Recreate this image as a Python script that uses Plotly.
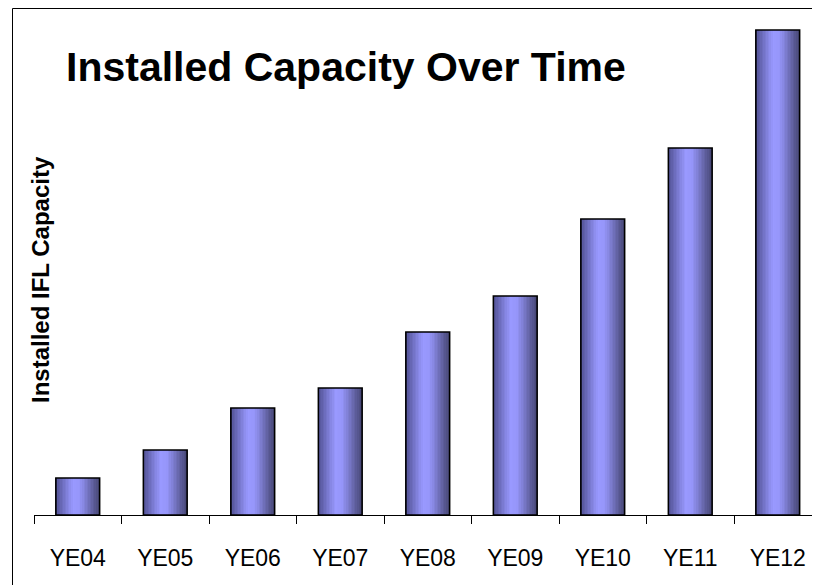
import plotly.graph_objects as go

categories = ["YE04", "YE05", "YE06", "YE07", "YE08", "YE09", "YE10", "YE11", "YE12"]
capacity = [37, 65, 107, 127, 183, 219, 296, 367, 485]

title_text = "Installed Capacity Over Time"
y_title = "Installed IFL Capacity"

FONT = "Liberation Sans, Arial, sans-serif"
BAR_W = 0.5
N_STRIPES = 28

# colour profile across bar width (position, rgb)
profile = [(0.0, (80, 80, 146)), (0.4, (153, 153, 255)), (0.55, (150, 150, 250)), (1.0, (70, 70, 116))]


def colour_at(t):
    for (p0, c0), (p1, c1) in zip(profile[:-1], profile[1:]):
        if p0 <= t <= p1:
            f = (t - p0) / (p1 - p0)
            return "rgb(%d,%d,%d)" % tuple(round(a + (b - a) * f) for a, b in zip(c0, c1))
    return "rgb(%d,%d,%d)" % profile[-1][1]


fig = go.Figure()
sw = BAR_W / N_STRIPES
for i in range(N_STRIPES):
    t = (i + 0.5) / N_STRIPES
    fig.add_trace(go.Bar(
        x=categories, y=capacity,
        width=sw * 1.08, offset=-BAR_W / 2 + i * sw,
        marker=dict(color=colour_at(t), line=dict(width=0)),
        showlegend=False, hoverinfo="skip",
    ))
# outline
fig.add_trace(go.Bar(
    x=categories, y=capacity, width=BAR_W, offset=-BAR_W / 2,
    marker=dict(color="rgba(0,0,0,0)", line=dict(color="black", width=1.6)),
    showlegend=False,
))

# the page places the figure 8px in from the top-left corner
OFF = 8
W, H = 820 - OFF, 585 - OFF
L, R, T = 34 - OFF, 0, 20 - OFF
B = H - (515 - OFF)
pw = W - L - R
ph = H - T - B


def px(xp):
    return (xp - OFF - L) / pw


def py(yp):
    return (H - B - (yp - OFF)) / ph


fig.update_layout(
    width=W, height=H,
    margin=dict(l=L, r=R, t=T, b=B, pad=0),
    barmode="overlay",
    plot_bgcolor="white", paper_bgcolor="white",
    font=dict(family=FONT, color="black"),
    xaxis=dict(
        type="category", range=[-0.5, 8.5 - 1.5 / 87.5],
        showline=True, linecolor="black", linewidth=1,
        ticks="outside", tickson="boundaries", ticklen=8, tickcolor="black", tickwidth=1,
        tickfont=dict(family=FONT, size=23, color="black"),
        ticklabelstandoff=22,
        showgrid=False, zeroline=False,
    ),
    yaxis=dict(
        range=[0, ph], showticklabels=False, showgrid=False, zeroline=False,
        showline=False, ticks="",
    ),
    shapes=[dict(
        type="rect", xref="paper", yref="paper",
        x0=px(12.5), x1=1.05, y0=-0.3, y1=py(8.5),
        line=dict(color="black", width=1), fillcolor="rgba(0,0,0,0)", layer="above",
    )],
    annotations=[
        dict(text="<b>%s</b>" % title_text, xref="paper", yref="paper",
             x=px(64), y=py(67), xanchor="left", yanchor="middle",
             showarrow=False, font=dict(family=FONT, size=41, color="black")),
        dict(text="<b>%s</b>" % y_title, xref="paper", yref="paper",
             x=px(40), y=py(280), xanchor="center", yanchor="middle",
             textangle=-90, showarrow=False, font=dict(family=FONT, size=24, color="black")),
    ],
)

fig.write_html("out.html")
